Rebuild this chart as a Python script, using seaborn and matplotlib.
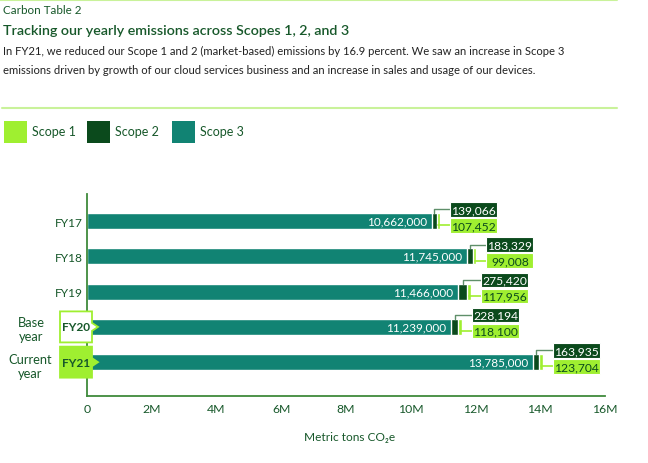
import matplotlib
matplotlib.use("Agg")
import matplotlib.pyplot as plt
import matplotlib.transforms as mtransforms
from matplotlib.patches import Rectangle, Polygon
from matplotlib.lines import Line2D
import seaborn as sns
import pandas as pd

# %% data
years = ["FY17", "FY18", "FY19", "FY20", "FY21"]
scope1 = [107452, 99008, 117956, 118100, 123704]
scope2 = [139066, 183329, 275420, 228194, 163935]
scope3 = [10662000, 11745000, 11466000, 11239000, 13785000]
xticks = [0, 2e6, 4e6, 6e6, 8e6, 10e6, 12e6, 14e6, 16e6]
xtick_labels = ["0", "2M", "4M", "6M", "8M", "10M", "12M", "14M", "16M"]

df = pd.DataFrame({"year": years, "s1": scope1, "s2": scope2, "s3": scope3})
df["s32"] = df["s3"] + df["s2"]
df["total"] = df["s32"] + df["s1"]

# %% style
C1 = "#9fef30"
C2 = "#0b4a1c"
C3 = "#118373"
TXT = "#17582a"
AX = "#3f8a3c"
LINE = "#c9f29a"

sns.set_style("white")
plt.rcParams["font.family"] = ["Lato", "DejaVu Sans"]

W, H = 648, 464
fig = plt.figure(figsize=(W / 100, H / 100), dpi=100)
fig.patch.set_facecolor("white")

def fx(px):
    return px / W

def fy(py):
    return 1 - py / H

ax = fig.add_axes([fx(87), fy(397), fx(605) - fx(87), fy(195) - fy(397)])

# stacked bars: draw totals first, then cover
sns.barplot(data=df, x="total", y="year", orient="h", color=C1, width=0.45,
            edgecolor="white", linewidth=1, saturation=1, ax=ax)
sns.barplot(data=df, x="s32", y="year", orient="h", color=C2, width=0.45,
            edgecolor="white", linewidth=1, saturation=1, ax=ax)
sns.barplot(data=df, x="s3", y="year", orient="h", color=C3, width=0.45,
            edgecolor="white", linewidth=1, saturation=1, ax=ax)

ax.set_xlim(0, 16e6)
ax.set_ylim(4.96, -0.77)
ax.set_xticks(xticks)
ax.set_xticklabels(xtick_labels, color=TXT, fontsize=8.8)
ax.set_yticks(range(len(years)))
ax.set_yticklabels(years[:3] + ["", ""], color=TXT, fontsize=8.6)
ax.tick_params(axis="y", length=0, pad=3)
ax.tick_params(axis="x", length=0, pad=5)
ax.set_xlabel("")
ax.set_ylabel("")
for s in ["top", "right"]:
    ax.spines[s].set_visible(False)
for s in ["left", "bottom"]:
    ax.spines[s].set_color(AX)
    ax.spines[s].set_linewidth(1.3)

# value labels
px_x = 16e6 / (605 - 87)
px_y = (4.96 + 0.77) / (397 - 195)
bw, bh = 47 * px_x, 14.5 * px_y
for i, r in df.iterrows():
    ax.text(r["s3"] - 5 * px_x, i, f"{int(r['s3']):,}", color="white",
            fontsize=8.5, ha="right", va="center")
    left = r["total"] + 10 * px_x
    c2 = i - 11.7 * px_y
    c1 = i + 4.3 * px_y
    x2 = r["s3"] + r["s2"] / 2
    x1 = r["s32"] + r["s1"] / 2
    ax.add_line(Line2D([x2, x2, left], [i - 0.225, c2, c2], color="#5f8f6a",
                       lw=1, clip_on=False))
    ax.add_line(Line2D([x1, left], [c1, c1], color=C1, lw=1.2, clip_on=False))
    ax.add_patch(Rectangle((left, c2 - bh / 2), bw, bh, facecolor=C2,
                           edgecolor="white", lw=0.8, clip_on=False, zorder=4))
    ax.add_patch(Rectangle((left, c1 - bh / 2), bw, bh, facecolor=C1,
                           edgecolor="white", lw=0.8, clip_on=False, zorder=4))
    ax.text(left + bw / 2, c2, f"{int(r['s2']):,}", color="white", fontsize=8.7,
            ha="center", va="center", zorder=5)
    ax.text(left + bw / 2, c1, f"{int(r['s1']):,}", color=C2, fontsize=8.7,
            ha="center", va="center", zorder=5)

# FY20 / FY21 tag boxes
tr = mtransforms.blended_transform_factory(fig.transFigure, ax.transData)
for i, fc in [(3, "white"), (4, C1)]:
    hh = 15.5 * px_y
    tip = 4 * px_y
    pts = [(fx(60), i - hh), (fx(92), i - hh), (fx(92), i - tip), (fx(98), i),
           (fx(92), i + tip), (fx(92), i + hh), (fx(60), i + hh)]
    fig.add_artist(Polygon(pts, closed=True, facecolor=fc, edgecolor=C1,
                           lw=1.3, transform=tr, zorder=5, clip_on=False))
    fig.text(fx(76), i, years[i], transform=tr, color=TXT, fontsize=8.6,
             fontweight="bold", ha="center", va="center", zorder=6)
fig.text(fx(31), 3.05, "Base\nyear", transform=tr, color=TXT, fontsize=9.3,
         ha="center", va="center", linespacing=1.2)
fig.text(fx(30), 4.12, "Current\nyear", transform=tr, color=TXT, fontsize=9.3,
         ha="center", va="center", linespacing=1.2)

fig.text(fx(350), fy(438), "Metric tons CO\u2082e", color=TXT, fontsize=8.6,
         ha="center", va="center")

# header
fig.add_artist(Line2D([fx(0), fx(617)], [fy(1), fy(1)], color=LINE, lw=1.5))
fig.add_artist(Line2D([fx(2), fx(617)], [fy(109), fy(109)], color=LINE, lw=1.5))
fig.text(fx(3), fy(11), "Carbon Table 2", color=TXT, fontsize=8.4, va="center")
fig.text(fx(3), fy(31), "Tracking our yearly emissions across Scopes 1, 2, and 3",
         color=TXT, fontsize=10.3, fontweight="semibold", va="center")
fig.text(fx(3), fy(51), "In FY21, we reduced our Scope 1 and 2 (market-based) emissions by 16.9 percent. We saw an increase in Scope 3",
         color="#222222", fontsize=8.1, va="center")
fig.text(fx(3), fy(70), "emissions driven by growth of our cloud services business and an increase in sales and usage of our devices.",
         color="#222222", fontsize=8.1, va="center")

# legend
for x0, col, lab in [(4, C1, "Scope 1"), (87, C2, "Scope 2"), (172, C3, "Scope 3")]:
    fig.add_artist(Rectangle((fx(x0), fy(144)), fx(23), fy(122) - fy(144),
                             facecolor=col, edgecolor="none"))
    fig.text(fx(x0 + 28), fy(132), lab, color=TXT, fontsize=9, va="center")

fig.savefig("out.png", dpi=100, facecolor="white")
